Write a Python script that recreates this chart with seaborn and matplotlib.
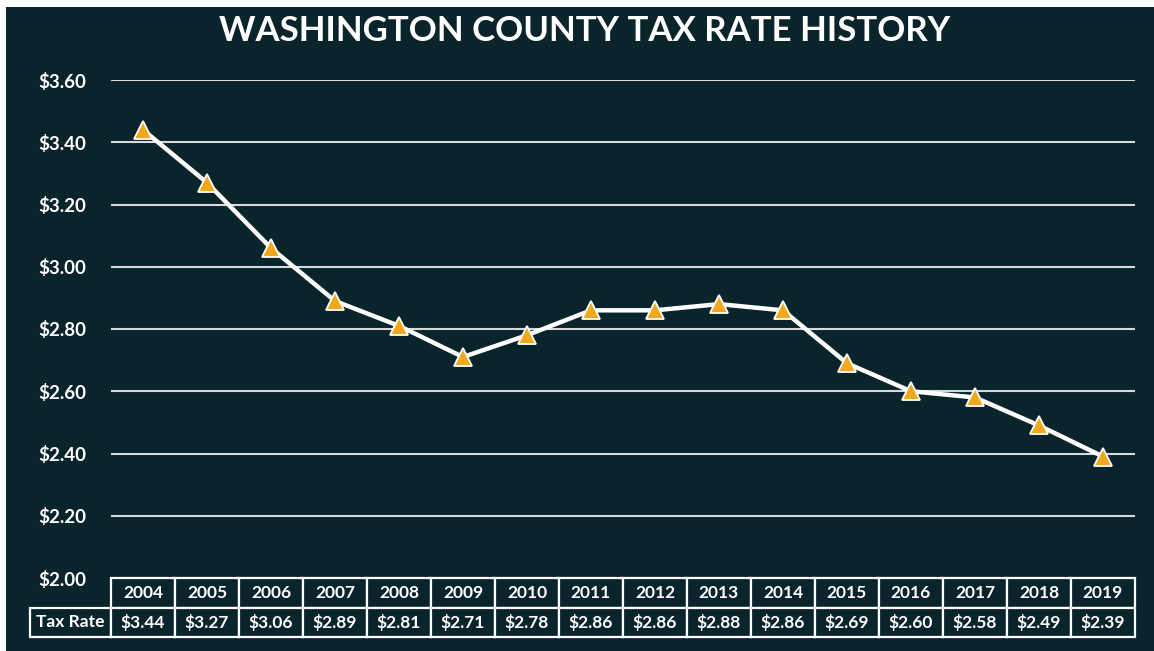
import matplotlib
matplotlib.use("Agg")
import matplotlib.pyplot as plt
import seaborn as sns
import pandas as pd
from matplotlib.patches import Rectangle

years = ["2004", "2005", "2006", "2007", "2008", "2009", "2010", "2011",
         "2012", "2013", "2014", "2015", "2016", "2017", "2018", "2019"]
rates = [3.44, 3.27, 3.06, 2.89, 2.81, 2.71, 2.78, 2.86,
         2.86, 2.88, 2.86, 2.69, 2.60, 2.58, 2.49, 2.39]
yticks = [2.00, 2.20, 2.40, 2.60, 2.80, 3.00, 3.20, 3.40, 3.60]
title = "WASHINGTON COUNTY TAX RATE HISTORY"
row_label = "Tax Rate"

BG = "#0a242c"
FONT = ["Lato", "DejaVu Sans"]

sns.set_theme(style="white")
plt.rcParams["font.family"] = FONT

W, H = 1154, 651
fig = plt.figure(figsize=(W / 100, H / 100), dpi=100)
fig.patch.set_facecolor(BG)
# thin white frame at top/left as in the reference screenshot
fig.add_artist(Rectangle((0, 1 - 7 / H), 1, 7 / H, transform=fig.transFigure,
                         facecolor="white", edgecolor="none"))
fig.add_artist(Rectangle((0, 0), 6 / W, 1, transform=fig.transFigure,
                         facecolor="white", edgecolor="none"))

x0, x1 = 111, 1135
y_top, y_bot = 80, 578
ax = fig.add_axes([x0 / W, 1 - y_bot / H, (x1 - x0) / W, (y_bot - y_top) / H])
ax.set_facecolor(BG)

df = pd.DataFrame({"idx": range(len(years)), "rate": rates})
sns.lineplot(data=df, x="idx", y="rate", ax=ax, color="white", linewidth=3.2,
             marker="^", markersize=13, markerfacecolor="#F2A81D",
             markeredgecolor="white", markeredgewidth=1.3, zorder=5)

ax.set_xlim(-0.5, len(years) - 0.5)
ax.set_ylim(2.0, 3.6)
ax.set_yticks(yticks)
ax.set_yticklabels([f"${v:.2f}" for v in yticks], color="white",
                   fontsize=13.5, fontweight="bold")
ax.tick_params(axis="y", length=0, pad=18)
ax.set_xticks([])
ax.set_xlabel("")
ax.set_ylabel("")
for s in ax.spines.values():
    s.set_visible(False)
for v in yticks[1:]:
    ax.axhline(v, color="#d9d9d9", linewidth=1.5, zorder=1)

# data table
axw = x1 - x0
axh = y_bot - y_top
lab_w = 81
col_w = 64
total_w = lab_w + col_w * len(years)
row_h = 29.5
cell_text = [[""] + years, [row_label] + [f"${v:.2f}" for v in rates]]
tbl = ax.table(cellText=cell_text,
               colWidths=[lab_w / total_w] + [col_w / total_w] * len(years),
               bbox=[-lab_w / axw, -2 * row_h / axh, total_w / axw, 2 * row_h / axh],
               cellLoc="center")
tbl.auto_set_font_size(False)
for (r, c), cell in tbl.get_celld().items():
    cell.set_facecolor(BG)
    cell.set_edgecolor("white")
    cell.set_linewidth(1.6)
    cell.get_text().set_color("white")
    cell.get_text().set_fontweight("bold")
    cell.get_text().set_fontsize(12.5)
    if r == 0 and c == 0:
        cell.visible_edges = ""
    cell.set_clip_on(False)

fig.text(585 / W, 1 - 31 / H, title, color="white", fontsize=25,
         fontweight="bold", ha="center", va="center")

fig.savefig("out.png", dpi=100, facecolor=fig.get_facecolor())
